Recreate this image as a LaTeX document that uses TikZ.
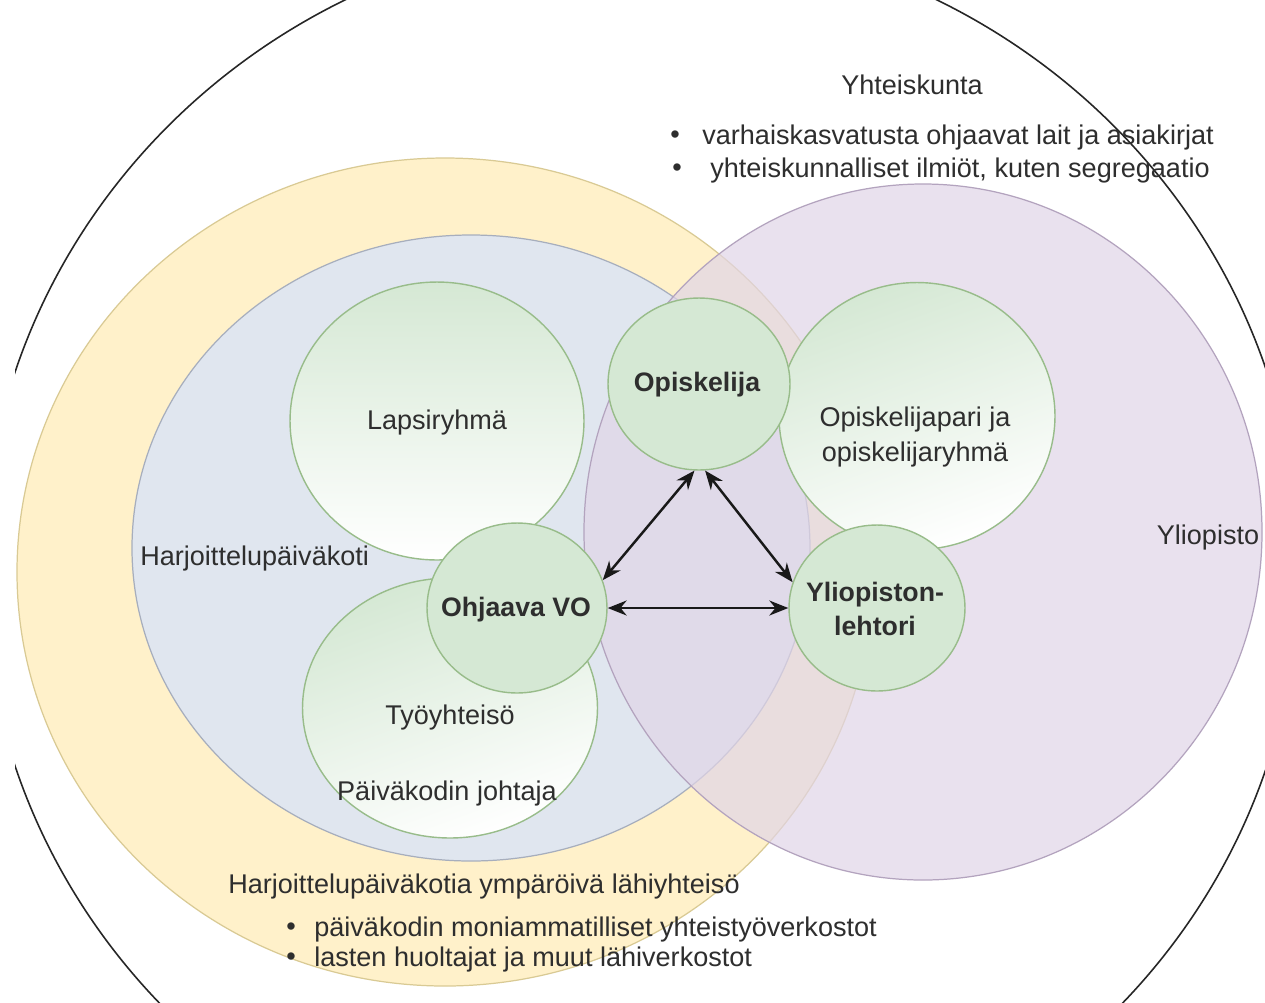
\documentclass[tikz,border=0pt]{standalone}
\usepackage{fontspec}
\setmainfont{Liberation Sans}
\usetikzlibrary{shapes.geometric,arrows.meta}
\definecolor{yfill}{HTML}{FFF1CA}
\definecolor{ydraw}{HTML}{D9CA94}
\definecolor{bfill}{HTML}{E0E6EF}
\definecolor{bdraw}{HTML}{A7AEBD}
\definecolor{pfill}{HTML}{E1D5E7}
\definecolor{pdraw}{HTML}{B3A3BE}
\definecolor{gfill}{HTML}{D5E8D4}
\definecolor{gdraw}{HTML}{98BC8A}
\definecolor{txt}{HTML}{2E2E2E}
\begin{document}
\begin{tikzpicture}[x=0.02cm,y=-0.02cm,
  lbl/.style={text=txt,font=\fontsize{15.4}{19.5}\selectfont,inner sep=0pt},
  blbl/.style={text=txt,font=\fontsize{15.2}{19.5}\selectfont\bfseries,inner sep=0pt,align=center},
  smallc/.style={ellipse,draw=gdraw,line width=0.8pt,fill=gfill,inner sep=0pt},
  bigc/.style={ellipse,draw=gdraw,line width=0.8pt,top color=gfill,bottom color=white,inner sep=0pt},
  link/.style={{Stealth[length=3.8mm,width=3mm]}-{Stealth[length=3.8mm,width=3mm]},line width=1.4pt,black!90}
]
\useasboundingbox (0,0) rectangle (1265,1002);
\fill[white] (0,0) rectangle (1265,1002);
\begin{scope}
\clip (15,0) rectangle (1265,1002);
\draw[line width=0.9pt,black!85] (641,569) ellipse [x radius=658,y radius=637];
\end{scope}
% yellow, blue, purple
\filldraw[fill=yfill,draw=ydraw,line width=0.7pt] (445,572) ellipse [x radius=428,y radius=414];
\filldraw[fill=bfill,draw=bdraw,line width=0.7pt] (471,548) ellipse [x radius=339,y radius=313];
\fill[pfill,opacity=0.7] (923,532) ellipse [x radius=339,y radius=348];
\draw[pdraw,line width=0.7pt] (923,532) ellipse [x radius=339,y radius=348];
% big circles
\node[bigc,minimum width=5.88cm,minimum height=5.56cm] (lap) at (437,421) {};
\node[bigc,minimum width=5.9cm,minimum height=5.2cm,shading angle=20] (tyo) at (450,708) {};
\node[bigc,minimum width=5.52cm,minimum height=5.34cm,shading angle=20] (par) at (917,416) {};
% small circles
\node[smallc,minimum width=3.64cm,minimum height=3.44cm] (opi) at (699,384) {};
\node[smallc,minimum width=3.6cm,minimum height=3.4cm] (vo) at (517,608) {};
\node[smallc,minimum width=3.52cm,minimum height=3.32cm] (yl) at (877,608) {};
% labels
\node[lbl] (laplbl) at (437,422) {Lapsiryhmä};
\node[lbl] (tyolbl) at (450,717) {Työyhteisö};
\node[lbl] (johlbl) at (447,793) {Päiväkodin johtaja};
\node[lbl,align=center] (parlbl) at (915,437) {Opiskelijapari ja\\opiskelijaryhmä};
\node[blbl] (opilbl) at (697,385) {Opiskelija};
\node[blbl] (volbl) at (516,610) {Ohjaava VO};
\node[blbl] (yllbl) at (875,609) {Yliopiston-\\lehtori};
\node[lbl] (yht) at (912,85) {Yhteiskunta};
\node[lbl,anchor=west] (yb1) at (670,137) {•};
\node[lbl,anchor=west] (yt1) at (702,137) {varhaiskasvatusta ohjaavat lait ja asiakirjat};
\node[lbl,anchor=west] (yb2) at (672,170) {•};
\node[lbl,anchor=west] (yt2) at (710,170) {yhteiskunnalliset ilmiöt, kuten segregaatio};
\node[lbl] (yo) at (1208,537) {Yliopisto};
\node[lbl,anchor=west] (hp) at (140,558) {Harjoittelupäiväkoti};
\node[lbl,anchor=west] (lh) at (228,886) {Harjoittelupäiväkotia ympäröivä lähiyhteisö};
\node[lbl,anchor=west] (lb1) at (286,929) {•};
\node[lbl,anchor=west] (lt1) at (314,929) {päiväkodin moniammatilliset yhteistyöverkostot};
\node[lbl,anchor=west] (lb2) at (286,959) {•};
\node[lbl,anchor=west] (lt2) at (314,959) {lasten huoltajat ja muut lähiverkostot};
% arrows
\draw[link] (opi.-93) -- (vo.18);
\draw[link] (opi.-86) -- (yl.163);
\draw[link] (vo.0) -- (yl.180);
\end{tikzpicture}
\end{document}
